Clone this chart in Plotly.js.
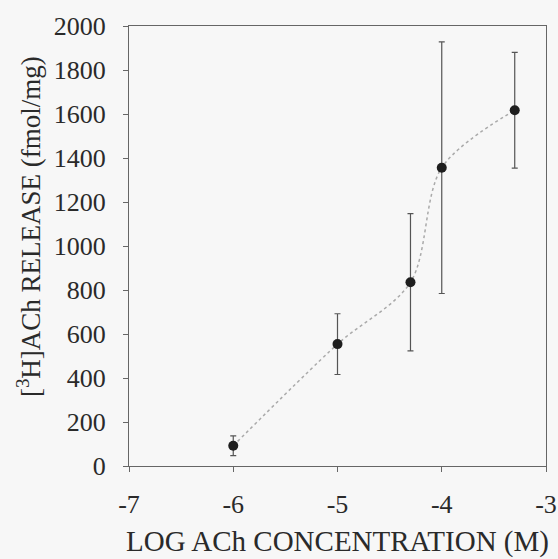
<!DOCTYPE html>
<html>
<head>
<meta charset="utf-8">
<script src="https://cdn.plot.ly/plotly-3.0.1.min.js"></script>
<style>html,body{margin:0;padding:0;background:#f7f7f7;}#chart{width:558px;height:559px;}</style>
</head>
<body>
<div id="chart"></div>
<script>
const logConc = [-6, -5, -4.3, -4, -3.3];
const release = [92, 554, 835, 1356, 1617];
const sem = [45, 138, 312, 572, 263];
const xTicks = [-7, -6, -5, -4, -3];
const yTicks = [0, 200, 400, 600, 800, 1000, 1200, 1400, 1600, 1800, 2000];
const xTitle = 'LOG ACh CONCENTRATION (M)';
const yTitle = '[<sup>3</sup>H]ACh RELEASE (fmol/mg)';

const fontFam = 'Liberation Serif';
const txtCol = '#2a2a2a';

const traces = [
  {
    x: logConc, y: release, type: 'scatter', mode: 'lines',
    line: {shape: 'spline', smoothing: 0.9, dash: 'dot', color: '#aaaaaa', width: 1.5},
    hoverinfo: 'skip', showlegend: false
  },
  {
    x: logConc, y: release, type: 'scatter', mode: 'markers',
    marker: {size: 10, color: '#1e1e1e'},
    error_y: {type: 'data', array: sem, visible: true, color: '#555555', thickness: 1.2, width: 3},
    showlegend: false
  }
];

const layout = {
  width: 558, height: 559,
  margin: {l: 129, r: 12, t: 26, b: 93},
  paper_bgcolor: '#f7f7f7', plot_bgcolor: '#f7f7f7',
  font: {family: fontFam, color: txtCol, size: 26},
  xaxis: {
    range: [-7, -3], tickvals: xTicks, ticktext: xTicks.map(String),
    showgrid: false, zeroline: false, showline: true, mirror: true,
    linecolor: '#666', linewidth: 1, ticks: 'outside', ticklen: 5, tickcolor: '#666',
    ticklabelstandoff: 10,
    tickfont: {family: fontFam, size: 26, color: txtCol},
    title: {text: xTitle, font: {family: fontFam, size: 29, color: txtCol}, standoff: 12}
  },
  yaxis: {
    range: [0, 2000], tickvals: yTicks, ticktext: yTicks.map(String),
    showgrid: false, zeroline: false, showline: true, mirror: true,
    linecolor: '#666', linewidth: 1, ticks: 'outside', ticklen: 5, tickcolor: '#666',
    ticklabelstandoff: 12,
    tickfont: {family: fontFam, size: 26, color: txtCol}
  },
  annotations: [{
    text: yTitle, xref: 'paper', yref: 'paper', x: -0.24, y: 0.545,
    xanchor: 'center', yanchor: 'middle', textangle: -90, showarrow: false,
    font: {family: fontFam, size: 27, color: txtCol}
  }]
};

Plotly.newPlot('chart', traces, layout, {displayModeBar: false, staticPlot: true});
</script>
</body>
</html>
